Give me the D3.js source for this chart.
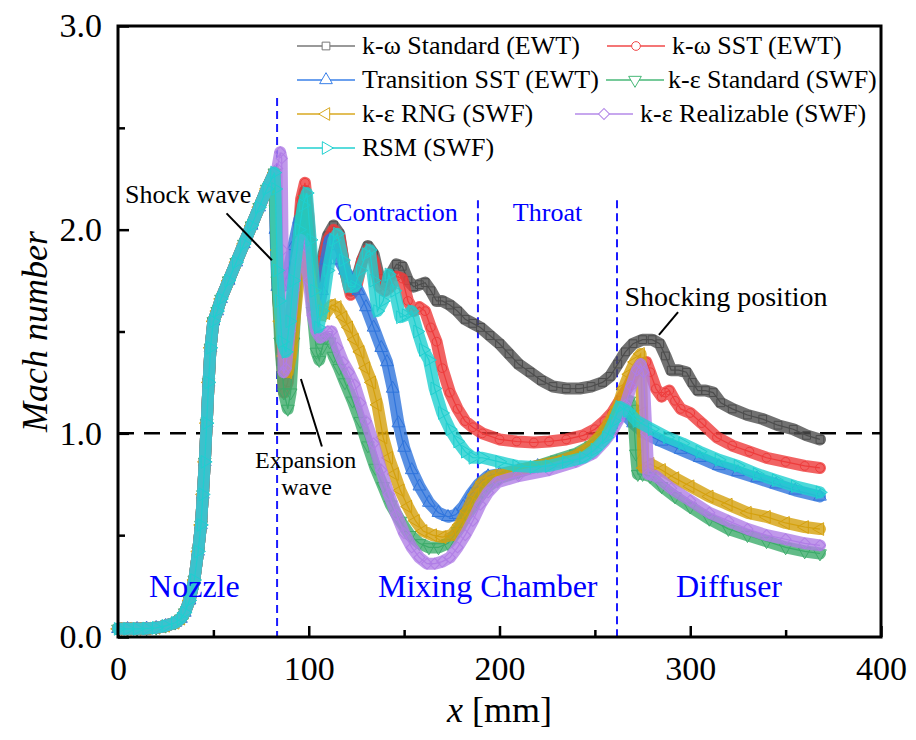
<!DOCTYPE html>
<html>
<head>
<meta charset="utf-8">
<script src="https://cdn.jsdelivr.net/npm/d3@7"></script>
<style>
  body { margin: 0; background: #fff; }
  text { font-family: "Liberation Serif", "Times New Roman", serif; }
</style>
</head>
<body>
<div id="chart"></div>
<script>
// tick values
var xTicks = [0, 100, 200, 300, 400];
var xMinor = [50, 150, 250, 350];
var yTicks = [0, 1, 2, 3];
var yMinor = [0.5, 1.5, 2.5];

var seriesNames = ["k-\u03c9 Standard (EWT)", "k-\u03c9 SST (EWT)", "Transition SST (EWT)", "k-\u03b5 Standard (SWF)",
                   "k-\u03b5 RNG (SWF)", "k-\u03b5 Realizable (SWF)", "RSM (SWF)"];
var seriesColors = ["#4d4d4d", "#ee3b3b", "#2f74dc", "#3cab6a", "#d4a00c", "#b07ee6", "#1fcfcf"];
var legendLineColors = ["#777777", "#f04848", "#3a80e8", "#48b878", "#d8a820", "#b48ae8", "#22d0d0"];

// nozzle part, same for every model
var nozzleRise = [[0,0.04],[5,0.04],[10,0.04],[15,0.042],[20,0.045],[25,0.055],[30,0.07],[33,0.09],[35,0.12],
  [37.5,0.18],[40,0.28],[42,0.42],[43.5,0.55],[44.5,0.7],[45.5,0.86],[46.5,1.05],[47.5,1.25],[48.5,1.42],
  [50,1.55],[52,1.6],[54,1.66],[58,1.75],[62,1.84],[66,1.93],[70,2.02],[74,2.11],[78,2.2],[82,2.28]];

var kwStd = [[82.5,2.2],[83,1.95],[84,1.65],[86,1.5],[88.5,1.42],[91,1.6],[94,1.9],[96,2.1],[98,2.19],[100,2.0],
  [102,1.72],[104,1.75],[107,1.85],[110,1.97],[113,2.02],[116,1.98],[119,1.8],[122,1.7],[125,1.75],[128,1.85],
  [131,1.92],[134,1.88],[137,1.76],[140,1.74],[143,1.78],[146,1.83],[149,1.82],[152,1.75],[155,1.72],[158,1.73],
  [161,1.74],[164,1.7],[167,1.65],[170,1.65],[174,1.63],[178,1.6],[182,1.56],[186,1.54],[190,1.52],[195,1.48],
  [200,1.44],[205,1.39],[210,1.34],[216,1.3],[222,1.26],[228,1.23],[235,1.22],[242,1.22],[248,1.23],[254,1.25],
  [258,1.28],[262,1.34],[266,1.4],[270,1.44],[275,1.46],[280,1.46],[284,1.44],[287,1.38],[290,1.31],[294,1.31],
  [298,1.3],[301,1.25],[304,1.21],[308,1.21],[312,1.2],[316,1.15],[322,1.12],[330,1.09],[338,1.07],[346,1.04],
  [354,1.02],[361,0.99],[368,0.97]];

var kwSst = [[82.5,2.1],[83.5,1.8],[85,1.5],[87,1.2],[89,1.25],[91,1.5],[94,1.9],[96,2.15],[98,2.23],[100,2.05],
  [102,1.72],[104,1.72],[107,1.82],[110,1.95],[113,2.0],[116,1.97],[119,1.8],[122,1.68],[125,1.72],[128,1.85],
  [131,1.9],[134,1.85],[137,1.72],[140,1.7],[143,1.72],[146,1.77],[149,1.76],[152,1.65],[155,1.6],[158,1.62],
  [161,1.6],[164,1.52],[167,1.45],[170,1.32],[174,1.2],[178,1.12],[182,1.06],[186,1.03],[191,1.0],[200,0.97],
  [209,0.96],[218,0.955],[226,0.96],[235,0.97],[244,0.99],[250,1.02],[255,1.06],[259,1.1],[263,1.16],[267,1.22],
  [271,1.3],[274,1.34],[277,1.35],[279,1.3],[282,1.22],[285,1.18],[287,1.2],[289,1.21],[292,1.16],[295,1.12],
  [300,1.1],[306,1.05],[314,0.98],[322,0.94],[331,0.91],[340,0.88],[350,0.86],[360,0.84],[368,0.83]];

var transSst = [[82.5,2.0],[83.5,1.72],[86,1.72],[89,1.78],[92,1.92],[95,2.05],[97,1.98],[100,1.78],[103,1.62],
  [105,1.6],[107,1.7],[109,1.85],[111,1.95],[113,1.92],[116,1.85],[119,1.8],[122,1.76],[126,1.7],[130,1.62],
  [134,1.52],[138,1.42],[141,1.35],[144,1.22],[147,1.05],[150,0.93],[154,0.82],[158,0.74],[163,0.66],[168,0.61],
  [173,0.59],[177,0.6],[181,0.64],[185,0.7],[189,0.75],[194,0.79],[200,0.8],[210,0.82],[220,0.84],[230,0.86],
  [240,0.89],[248,0.93],[254,0.98],[258,1.03],[261,1.08],[263,1.1],[266,1.09],[270,1.05],[276,1.0],[285,0.96],
  [295,0.92],[305,0.88],[315,0.84],[325,0.81],[335,0.78],[345,0.75],[355,0.72],[368,0.69]];

var keStd = [[82.5,2.1],[83.5,1.75],[85,1.45],[87,1.2],[89,1.12],[90.5,1.2],[92,1.45],[94,1.8],[96,2.05],[98,2.15],
  [100,1.9],[102,1.6],[104,1.4],[105.5,1.36],[107,1.42],[109,1.47],[111,1.45],[113,1.38],[116,1.32],[119,1.25],
  [123,1.16],[127,1.06],[131,0.94],[135,0.83],[139,0.74],[143,0.65],[148,0.57],[153,0.5],[158,0.46],[163,0.44],
  [168,0.44],[173,0.46],[178,0.52],[183,0.6],[188,0.67],[194,0.74],[200,0.78],[210,0.81],[220,0.84],[230,0.87],
  [240,0.9],[248,0.94],[254,0.99],[258,1.04],[262,1.1],[265,1.14],[268,1.16],[270,1.12],[271.5,0.9],[272.5,0.8],
  [275,0.8],[279,0.79],[285,0.74],[292,0.69],[300,0.64],[310,0.58],[320,0.53],[330,0.5],[340,0.47],[350,0.44],
  [360,0.42],[368,0.41]];

var keRng = [[82.5,2.2],[83.5,1.9],[85,1.55],[87,1.38],[89,1.3],[91,1.4],[93,1.6],[95,1.78],[97,1.87],[99,1.85],
  [101,1.75],[103,1.65],[105,1.6],[107,1.58],[109,1.59],[112,1.63],[115,1.62],[118,1.57],[121,1.52],[124,1.46],
  [127,1.4],[130,1.32],[133,1.25],[136,1.14],[139,0.98],[142,0.88],[145,0.8],[148,0.72],[152,0.64],[156,0.57],
  [160,0.52],[165,0.5],[170,0.49],[175,0.5],[179,0.55],[183,0.62],[187,0.7],[191,0.76],[196,0.79],[202,0.8],
  [210,0.82],[220,0.84],[230,0.86],[240,0.89],[247,0.93],[253,0.99],[258,1.06],[262,1.13],[265,1.22],[268,1.29],
  [271,1.35],[274,1.39],[274.8,1.1],[275.5,0.83],[279,0.85],[285,0.82],[292,0.78],[300,0.74],[310,0.69],[320,0.65],
  [330,0.61],[340,0.59],[350,0.56],[360,0.54],[368,0.53]];

var keReal = [[83.5,2.3],[85,2.38],[85.8,2.35],[86.3,1.9],[86.8,1.3],[88,1.32],[90,1.5],[92,1.7],[94,1.85],[96,1.95],
  [98,1.92],[100,1.75],[102,1.58],[104,1.5],[106,1.47],[108,1.48],[110,1.5],[112,1.5],[115,1.42],[118,1.35],
  [121,1.3],[124,1.24],[127,1.15],[130,1.06],[134,0.95],[138,0.82],[142,0.7],[146,0.6],[150,0.51],[154,0.44],
  [158,0.39],[162,0.36],[166,0.36],[170,0.37],[174,0.39],[178,0.44],[182,0.5],[186,0.57],[190,0.65],[194,0.71],
  [199,0.76],[210,0.79],[226,0.82],[240,0.86],[249,0.9],[255,0.96],[259,1.01],[262,1.06],[266,1.14],[269,1.23],
  [272,1.31],[274,1.34],[275.5,1.3],[277,1.0],[278,0.8],[282,0.79],[290,0.73],[300,0.67],[310,0.61],[320,0.57],
  [330,0.53],[340,0.5],[350,0.48],[360,0.46],[368,0.45]];

var rsm = [[82.5,2.2],[83.5,1.8],[84.5,1.65],[86,1.45],[88,1.4],[90,1.55],[92,1.75],[95,2.0],[97,2.12],[99,2.18],
  [101,1.95],[103,1.7],[105,1.52],[107,1.6],[110,1.8],[113,1.95],[115,1.98],[118,1.85],[121,1.72],[124,1.72],
  [127,1.8],[130,1.88],[132,1.9],[134,1.75],[136,1.6],[139,1.65],[142,1.78],[145,1.7],[148,1.57],[151,1.58],
  [154,1.6],[157,1.5],[160,1.41],[163,1.36],[166,1.22],[170,1.1],[174,1.02],[178,0.96],[182,0.91],[186,0.88],
  [191,0.88],[200,0.86],[209,0.84],[218,0.835],[226,0.84],[235,0.86],[244,0.88],[250,0.92],[256,0.98],[260,1.06],
  [263,1.13],[267,1.11],[272,1.06],[280,1.02],[288,0.98],[296,0.95],[305,0.91],[315,0.87],[325,0.84],[335,0.8],
  [345,0.77],[355,0.74],[368,0.71]];

var allSeries = [kwStd, kwSst, transSst, keStd, keRng, keReal, rsm];
// marker: symbol type + rotation
var markerTypes = [[d3.symbolSquare, 0], [d3.symbolCircle, 0], [d3.symbolTriangle, 0], [d3.symbolTriangle, 180],
                   [d3.symbolTriangle, -90], [d3.symbolSquare, 45], [d3.symbolTriangle, 90]];

var zoneX = [83.4, 188.7, 261.6];

var width = 916, height = 740;
var margin = {left: 118, right: 35, top: 26, bottom: 103};

var svg = d3.select("#chart").append("svg")
    .attr("width", width)
    .attr("height", height);

var x = d3.scaleLinear().domain([0, 400]).range([margin.left, width - margin.right]);
var y = d3.scaleLinear().domain([0, 3]).range([height - margin.bottom, margin.top]);

//axes, ticks inside
var xAxis = svg.append("g")
    .attr("transform", "translate(0," + y(0) + ")")
    .call(d3.axisBottom(x).tickValues(xTicks).tickSizeInner(-11).tickSizeOuter(0).tickPadding(19).tickFormat(d3.format("d")));
var xAxisMinor = svg.append("g")
    .attr("transform", "translate(0," + y(0) + ")")
    .call(d3.axisBottom(x).tickValues(xMinor).tickSizeInner(-7).tickSizeOuter(0).tickFormat(""));
var yAxis = svg.append("g")
    .attr("transform", "translate(" + x(0) + ",0)")
    .call(d3.axisLeft(y).tickValues(yTicks).tickSizeInner(-11).tickSizeOuter(0).tickPadding(16).tickFormat(d3.format(".1f")));
var yAxisMinor = svg.append("g")
    .attr("transform", "translate(" + x(0) + ",0)")
    .call(d3.axisLeft(y).tickValues(yMinor).tickSizeInner(-7).tickSizeOuter(0).tickFormat(""));

svg.selectAll(".domain").remove();
svg.selectAll(".tick line").attr("stroke", "#000").attr("stroke-width", 2.5);
svg.selectAll(".tick text").attr("font-size", 34).attr("fill", "#000")
    .style("font-family", "'Liberation Serif', serif");

//zone boundaries
var zoneTop = [2.646, 2.145, 2.145];
var zoneBottom = [0, 0.72, 0];
svg.selectAll(".zone").data(zoneX).enter()
  .append("line")
  .attr("class", "zone")
  .attr("x1", function(d) { return x(d); })
  .attr("x2", function(d) { return x(d); })
  .attr("y1", function(d, i) { return y(zoneTop[i]); })
  .attr("y2", function(d, i) { return y(zoneBottom[i]); })
  .style("stroke", "#1a1aff")
  .style("stroke-width", 2)
  .style("stroke-dasharray", "8,5");

//sonic line
svg.append("line")
    .attr("x1", x(0)).attr("x2", x(400))
    .attr("y1", y(1)).attr("y2", y(1))
    .style("stroke", "#000")
    .style("stroke-width", 2.5)
    .style("stroke-dasharray", "16,10");

//series
var line = d3.line()
    .x(function(d) { return x(d[0]); })
    .y(function(d) { return y(d[1]); });

allSeries.forEach(function(s, k) {
  var pts = nozzleRise.concat(s);
  var g = svg.append("g").attr("class", "series");
  g.append("path")
    .datum(pts)
    .attr("d", line)
    .style("fill", "none")
    .style("stroke", seriesColors[k])
    .style("stroke-width", 12)
    .style("stroke-linejoin", "round")
    .style("stroke-linecap", "round")
    .style("opacity", 0.8);
  g.append("path")
    .datum(pts)
    .attr("d", line)
    .style("fill", "none")
    .style("stroke", seriesColors[k])
    .style("stroke-width", 1.2);
  var sym = d3.symbol().type(markerTypes[k][0]).size(markerTypes[k][0] === d3.symbolTriangle ? 70 : 60);
  g.selectAll("path.mk").data(pts).enter()
    .append("path")
    .attr("class", "mk")
    .attr("d", sym)
    .attr("transform", function(d) {
      return "translate(" + x(d[0]) + "," + y(d[1]) + ") rotate(" + markerTypes[k][1] + ")";
    })
    .style("fill", "none")
    .style("stroke", seriesColors[k])
    .style("stroke-width", 1);
});

//frame
svg.append("rect")
    .attr("x", x(0))
    .attr("y", y(3))
    .attr("width", x(400) - x(0))
    .attr("height", y(0) - y(3))
    .style("fill", "none")
    .style("stroke", "#000")
    .style("stroke-width", 3);

//zone labels
var zoneLabels = [["Nozzle", 16.3, 0.196, 32], ["Mixing Chamber", 136.3, 0.196, 32], ["Diffuser", 292.5, 0.196, 32],
                  ["Contraction", 113.8, 2.042, 26], ["Throat", 207, 2.042, 26]];
svg.selectAll(".zlabel").data(zoneLabels).enter()
  .append("text")
  .attr("class", "zlabel")
  .attr("x", function(d) { return x(d[1]); })
  .attr("y", function(d) { return y(d[2]); })
  .attr("font-size", function(d) { return d[3]; })
  .style("fill", "#0000ff")
  .text(function(d) { return d[0]; });

//annotations
var notes = [["Shock wave", 3.7, 2.13, "start", 26], ["Shocking position", 265.5, 1.625, "start", 28],
             ["Expansion", 98.4, 0.828, "middle", 24], ["wave", 98.8, 0.695, "middle", 24]];
svg.selectAll(".note").data(notes).enter()
  .append("text")
  .attr("class", "note")
  .attr("x", function(d) { return x(d[1]); })
  .attr("y", function(d) { return y(d[2]); })
  .attr("text-anchor", function(d) { return d[3]; })
  .attr("font-size", function(d) { return d[4]; })
  .style("fill", "#000")
  .text(function(d) { return d[0]; });

var pointers = [[56.9, 2.08, 80.7, 1.85], [95.9, 1.267, 106.9, 0.935], [293.6, 1.595, 283.6, 1.483]];
svg.selectAll(".pointer").data(pointers).enter()
  .append("line")
  .attr("class", "pointer")
  .attr("x1", function(d) { return x(d[0]); })
  .attr("y1", function(d) { return y(d[1]); })
  .attr("x2", function(d) { return x(d[2]); })
  .attr("y2", function(d) { return y(d[3]); })
  .style("stroke", "#000")
  .style("stroke-width", 2);

//legend
var legendPos = [[297, 362, 46], [607, 672, 46], [297, 362, 80], [606, 668, 80],
                 [297, 362, 114], [575, 640, 114], [297, 362, 148]];
var legend = svg.append("g").attr("class", "legend");
var legendItem = legend.selectAll("g").data(seriesNames).enter()
  .append("g")
  .attr("transform", function(d, i) { return "translate(0," + legendPos[i][2] + ")"; });
legendItem.append("line")
  .attr("x1", function(d, i) { return legendPos[i][0]; })
  .attr("x2", function(d, i) { return legendPos[i][0] + 58; })
  .style("stroke", function(d, i) { return legendLineColors[i]; })
  .style("stroke-width", 1.5);
legendItem.append("path")
  .attr("d", function(d, i) {
    return d3.symbol().type(markerTypes[i][0]).size(markerTypes[i][0] === d3.symbolTriangle ? 70 : 60)();
  })
  .attr("transform", function(d, i) { return "translate(" + (legendPos[i][0] + 29) + ",0) rotate(" + markerTypes[i][1] + ")"; })
  .style("fill", "#fff")
  .style("stroke", function(d, i) { return legendLineColors[i]; })
  .style("stroke-width", 1);
legendItem.append("text")
  .attr("x", function(d, i) { return legendPos[i][1]; })
  .attr("y", 8)
  .attr("font-size", 26)
  .style("fill", "#000")
  .text(function(d) { return d; });

//axis titles
svg.append("text")
    .attr("x", x(200))
    .attr("y", 722)
    .attr("text-anchor", "middle")
    .attr("font-size", 36)
    .html("<tspan font-style='italic'>x</tspan> [mm]");

svg.append("text")
    .attr("transform", "translate(47," + y(1.5) + ") rotate(-90)")
    .attr("text-anchor", "middle")
    .attr("font-size", 36)
    .style("font-style", "italic")
    .text("Mach number");
</script>
</body>
</html>
